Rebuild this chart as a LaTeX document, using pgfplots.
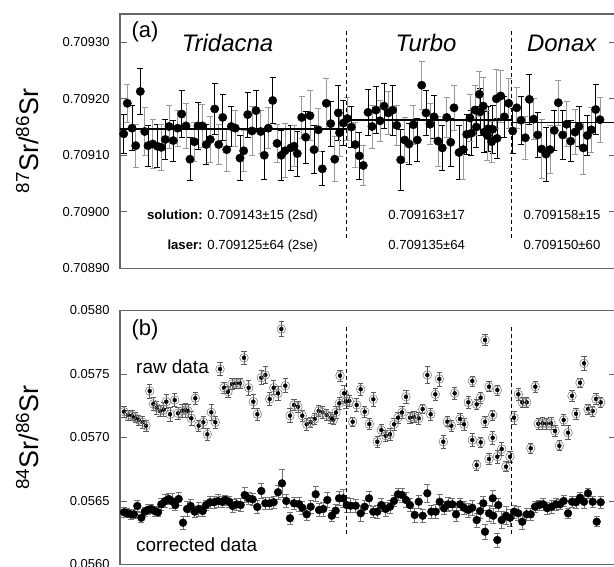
\documentclass[border=0pt]{standalone}
\usepackage{fontspec}
\setmainfont{Liberation Sans}
\usepackage{pgfplots}
\pgfplotsset{compat=1.18}
\usepackage{pgfplotstable}

\pgfplotstableread{
x y e c
123.7 0.709138 0.000034 0
127.3 0.709192 0.000033 1
132.0 0.709148 0.000040 0
135.7 0.709117 0.000038 1
140.3 0.709213 0.000040 0
144.7 0.709142 0.000042 1
148.0 0.709117 0.000036 0
152.7 0.709120 0.000044 1
157.3 0.709116 0.000038 0
161.3 0.709114 0.000040 1
165.3 0.709128 0.000035 0
169.0 0.709151 0.000038 1
173.3 0.709126 0.000036 0
177.7 0.709148 0.000032 1
181.7 0.709173 0.000042 0
186.0 0.709152 0.000040 1
190.0 0.709093 0.000038 0
194.3 0.709124 0.000034 1
198.0 0.709152 0.000042 0
202.3 0.709152 0.000038 1
206.3 0.709119 0.000036 0
210.3 0.709128 0.000040 1
214.7 0.709182 0.000045 0
218.7 0.709119 0.000036 1
222.7 0.709167 0.000040 0
226.7 0.709110 0.000038 1
231.3 0.709151 0.000035 0
235.3 0.709148 0.000032 1
240.0 0.709095 0.000040 0
243.7 0.709108 0.000036 1
247.7 0.709172 0.000040 0
252.0 0.709143 0.000044 1
256.0 0.709179 0.000036 0
260.7 0.709142 0.000038 1
264.3 0.709100 0.000042 0
268.3 0.709148 0.000036 1
272.7 0.709197 0.000040 0
277.0 0.709121 0.000034 1
281.3 0.709100 0.000044 0
285.0 0.709108 0.000048 1
290.7 0.709113 0.000040 0
294.0 0.709116 0.000036 1
297.3 0.709103 0.000040 0
301.7 0.709167 0.000038 1
305.7 0.709132 0.000046 0
310.0 0.709170 0.000044 1
314.0 0.709110 0.000042 0
318.3 0.709145 0.000038 1
322.3 0.709076 0.000030 0
326.3 0.709192 0.000044 1
330.7 0.709156 0.000040 0
334.7 0.709093 0.000040 1
338.3 0.709175 0.000048 0
339.5 0.709140 0.000042 1
343.3 0.709157 0.000040 0
347.3 0.709165 0.000038 1
351.3 0.709150 0.000036 0
355.3 0.709119 0.000040 1
359.3 0.709099 0.000042 0
363.3 0.709082 0.000036 1
368.0 0.709176 0.000040 0
372.0 0.709151 0.000038 1
376.0 0.709180 0.000042 0
380.0 0.709161 0.000036 1
384.0 0.709187 0.000040 0
388.3 0.709175 0.000038 1
392.7 0.709180 0.000044 0
396.7 0.709153 0.000036 1
400.7 0.709092 0.000054 0
404.7 0.709127 0.000040 1
409.0 0.709120 0.000036 0
413.3 0.709154 0.000034 1
417.3 0.709127 0.000038 0
421.7 0.709224 0.000042 1
426.0 0.709175 0.000040 0
430.0 0.709155 0.000036 1
434.0 0.709168 0.000038 0
438.0 0.709125 0.000044 1
442.3 0.709113 0.000040 0
446.7 0.709167 0.000036 1
450.7 0.709123 0.000042 0
454.0 0.709184 0.000040 1
459.0 0.709105 0.000048 0
463.3 0.709110 0.000052 1
466.7 0.709137 0.000036 0
470.0 0.709166 0.000042 1
471.3 0.709139 0.000040 0
475.0 0.709180 0.000044 1
476.3 0.709150 0.000036 0
479.3 0.709208 0.000040 1
480.3 0.709177 0.000042 0
483.3 0.709187 0.000050 1
484.3 0.709141 0.000036 0
487.3 0.709135 0.000044 1
488.3 0.709147 0.000040 0
491.7 0.709124 0.000036 1
492.7 0.709146 0.000042 0
496.3 0.709200 0.000052 1
497.0 0.709130 0.000036 0
500.7 0.709205 0.000046 1
504.3 0.709168 0.000036 0
508.7 0.709192 0.000044 1
512.7 0.709143 0.000040 0
516.7 0.709184 0.000036 1
521.0 0.709162 0.000042 0
525.3 0.709131 0.000038 1
529.3 0.709199 0.000044 0
533.7 0.709164 0.000036 1
537.7 0.709136 0.000040 0
541.7 0.709111 0.000052 1
546.0 0.709102 0.000048 0
550.0 0.709110 0.000042 1
554.3 0.709144 0.000036 0
558.3 0.709193 0.000040 1
562.7 0.709136 0.000044 0
566.7 0.709155 0.000040 1
570.7 0.709125 0.000036 0
575.0 0.709141 0.000040 1
579.0 0.709151 0.000036 0
583.3 0.709113 0.000046 1
587.3 0.709135 0.000036 0
591.3 0.709145 0.000040 1
595.7 0.709181 0.000044 0
600.0 0.709163 0.000040 1
}\topdata

\pgfplotstableread{
x y e
124 0.057203 0.000045
128 0.057177 0.000040
132 0.057172 0.000040
135.3 0.057156 0.000040
138.7 0.057138 0.000040
142.7 0.057120 0.000045
146 0.057093 0.000045
149.7 0.057366 0.000055
153.3 0.057264 0.000050
156.7 0.057235 0.000050
160 0.057209 0.000045
163.7 0.057219 0.000055
166.3 0.057282 0.000055
170 0.057183 0.000055
174.7 0.057295 0.000050
178 0.057191 0.000050
182 0.057209 0.000050
185.3 0.057217 0.000055
188 0.057209 0.000050
191.3 0.057151 0.000055
195.3 0.057309 0.000050
198.7 0.057093 0.000045
203.3 0.057120 0.000050
207.3 0.057025 0.000050
211.3 0.057198 0.000060
215.3 0.057120 0.000050
220 0.057539 0.000050
224 0.057392 0.000045
228 0.057361 0.000045
232 0.057421 0.000045
236 0.057427 0.000040
240 0.057427 0.000040
244 0.057628 0.000050
248.7 0.057392 0.000060
253.3 0.057282 0.000055
257.3 0.057183 0.000045
261.3 0.057471 0.000055
265.3 0.057492 0.000065
269.7 0.057303 0.000050
273.7 0.057392 0.000055
278 0.057348 0.000055
281.3 0.057854 0.000060
285.3 0.057408 0.000055
290 0.057172 0.000055
294 0.057256 0.000045
298 0.057243 0.000045
302.3 0.057172 0.000045
306.7 0.057104 0.000045
310.7 0.057120 0.000040
314.7 0.057146 0.000045
318.7 0.057209 0.000045
322.7 0.057198 0.000045
326.7 0.057177 0.000045
330.7 0.057156 0.000045
333.3 0.057140 0.000040
336 0.057198 0.000045
339.3 0.057269 0.000045
340 0.057487 0.000045
344 0.057348 0.000060
346 0.057282 0.000055
349.3 0.057287 0.000045
352.7 0.057124 0.000035
356.7 0.057256 0.000050
360.7 0.057380 0.000050
364.7 0.057203 0.000045
369.3 0.057106 0.000045
373.3 0.057301 0.000055
377.3 0.056967 0.000045
381.3 0.057059 0.000045
385.7 0.057014 0.000045
390 0.057025 0.000045
394 0.057104 0.000045
398 0.057156 0.000045
402 0.057198 0.000050
406 0.057321 0.000050
410 0.057156 0.000045
414 0.057161 0.000045
418.7 0.057151 0.000045
422.7 0.057224 0.000035
427.3 0.057492 0.000065
430.7 0.057183 0.000045
435.3 0.057340 0.000045
439.3 0.057461 0.000055
443.3 0.056967 0.000050
447.3 0.057124 0.000040
451.3 0.057093 0.000045
454.7 0.057348 0.000045
460 0.057146 0.000045
464 0.057104 0.000045
468.3 0.057277 0.000045
472.3 0.057445 0.000040
472.3 0.056980 0.000050
476.7 0.057261 0.000040
476.7 0.056783 0.000040
480.7 0.057313 0.000045
480.7 0.056962 0.000040
485 0.057768 0.000045
485 0.057124 0.000045
489 0.057400 0.000040
489 0.056831 0.000045
492.7 0.057177 0.000040
492.7 0.056998 0.000050
497.3 0.057374 0.000040
497.3 0.056849 0.000050
501.7 0.056909 0.000050
506 0.056770 0.000040
510 0.056849 0.000045
514 0.057156 0.000050
518.3 0.057340 0.000045
522.3 0.057277 0.000040
526.7 0.057277 0.000040
530.7 0.056915 0.000040
535.3 0.057400 0.000045
538.3 0.057109 0.000045
542.7 0.057112 0.000045
546.7 0.057109 0.000045
551 0.057112 0.000045
555 0.057051 0.000045
559.3 0.056935 0.000040
563.7 0.057138 0.000045
568 0.057038 0.000055
572 0.057329 0.000045
576 0.057187 0.000045
580 0.057431 0.000035
584 0.057584 0.000055
588 0.057224 0.000040
592.7 0.057209 0.000040
596 0.057303 0.000045
600.7 0.057277 0.000040
}\rawdata

\pgfplotstableread{
x y e
124 0.056411 0.000040
127.3 0.056403 0.000035
130.7 0.056395 0.000040
134 0.056395 0.000035
137.3 0.056461 0.000045
141.3 0.056368 0.000040
144.7 0.056416 0.000035
148 0.056431 0.000040
151.3 0.056437 0.000035
154.7 0.056421 0.000040
158 0.056411 0.000035
161.3 0.056474 0.000045
165.3 0.056500 0.000050
168.7 0.056516 0.000045
172 0.056500 0.000060
175.3 0.056468 0.000045
178.7 0.056516 0.000050
183 0.056329 0.000050
187 0.056437 0.000060
190.7 0.056461 0.000050
194.7 0.056416 0.000045
198.7 0.056437 0.000055
202.7 0.056421 0.000045
206 0.056468 0.000040
210 0.056490 0.000050
214 0.056490 0.000045
218 0.056500 0.000050
222 0.056494 0.000045
225.3 0.056508 0.000040
229.3 0.056494 0.000045
232.7 0.056461 0.000050
236.7 0.056474 0.000045
240.7 0.056468 0.000050
244.7 0.056547 0.000060
248.7 0.056521 0.000050
252.7 0.056513 0.000045
257.3 0.056453 0.000050
261.3 0.056579 0.000060
265.3 0.056482 0.000050
269.7 0.056482 0.000045
273.7 0.056490 0.000050
278 0.056569 0.000055
282 0.056639 0.000110
286.3 0.056500 0.000050
290 0.056364 0.000045
294 0.056482 0.000050
299 0.056476 0.000055
302.3 0.056447 0.000050
306.7 0.056395 0.000045
310.7 0.056455 0.000050
315.7 0.056553 0.000060
319 0.056429 0.000050
323.3 0.056437 0.000055
327.3 0.056508 0.000060
331.7 0.056384 0.000045
335.7 0.056424 0.000050
339 0.056521 0.000055
343.3 0.056521 0.000070
346.7 0.056468 0.000060
350.7 0.056463 0.000055
355.7 0.056463 0.000050
360.7 0.056403 0.000065
364.7 0.056455 0.000050
369 0.056521 0.000055
373.3 0.056416 0.000045
377.3 0.056416 0.000050
381.3 0.056468 0.000050
385.7 0.056437 0.000055
390 0.056455 0.000050
394 0.056500 0.000045
398 0.056553 0.000050
402 0.056547 0.000055
406 0.056508 0.000060
410 0.056468 0.000050
414.7 0.056390 0.000055
418.7 0.056494 0.000050
422.7 0.056384 0.000050
427.3 0.056561 0.000070
431.3 0.056416 0.000050
435.7 0.056416 0.000055
439.7 0.056494 0.000060
444 0.056443 0.000050
448 0.056474 0.000055
452.3 0.056474 0.000050
456 0.056395 0.000055
460 0.056474 0.000045
464 0.056447 0.000050
468.3 0.056429 0.000055
472.3 0.056447 0.000060
476.7 0.056350 0.000055
480 0.056421 0.000060
483.3 0.056482 0.000055
485 0.056258 0.000060
489 0.056403 0.000065
492.7 0.056521 0.000060
493.3 0.056384 0.000060
497.3 0.056193 0.000055
498.3 0.056468 0.000050
501.7 0.056350 0.000065
506 0.056384 0.000070
510 0.056368 0.000065
514.3 0.056416 0.000050
518.3 0.056403 0.000055
522.3 0.056337 0.000060
526.7 0.056395 0.000050
530.7 0.056395 0.000045
535 0.056455 0.000045
539.3 0.056468 0.000040
543.3 0.056474 0.000050
547.3 0.056443 0.000045
551.7 0.056455 0.000050
556 0.056474 0.000045
560 0.056474 0.000040
563.7 0.056500 0.000045
568 0.056403 0.000040
572 0.056494 0.000045
576 0.056490 0.000050
580 0.056526 0.000045
584 0.056494 0.000050
588 0.056561 0.000040
592.7 0.056494 0.000045
596.7 0.056337 0.000040
600.7 0.056490 0.000045
}\corrdata

\begin{document}
\begin{tikzpicture}
\useasboundingbox (0,0) rectangle (614bp,-567bp);
\pgfplotsset{
  panel/.style={
    scale only axis, width=496bp, xmin=120, xmax=616, xtick=\empty,
    tick align=inside, major tick length=7bp, ytick pos=both,
    scaled y ticks=false,
    axis line style={draw=black!60, line width=1.3bp},
    ytick style={draw=black!60, line width=0.9bp},
    yticklabel style={font=\fontsize{13}{15}\selectfont, xshift=-7bp},
  },
  ebars/.style={only marks, mark=none, forget plot,
    error bars/y dir=both, error bars/y explicit,
    error bars/error bar style={line width=0.8bp, #1},
    error bars/error mark options={rotate=90, mark size=3bp, line width=0.8bp, #1}},
}
\begin{axis}[panel, at={(120bp,-14bp)}, anchor=north west, height=254.3bp,
  ymin=0.70890, ymax=0.70935,
  ytick={0.7089,0.7090,0.7091,0.7092,0.7093},
  yticklabels={0.70890,0.70900,0.70910,0.70920,0.70930}]
\addplot[ebars={black}, restrict expr to domain={\thisrow{c}}{-0.5:0.5}]
  table[x=x, y=y, y error=e] {\topdata};
\addplot[ebars={black!40}, restrict expr to domain={\thisrow{c}}{0.5:1.5}]
  table[x=x, y=y, y error=e] {\topdata};
\addplot[black, line width=1.8bp] coordinates {(120,0.709147) (346.5,0.709147)};
\addplot[black, line width=1.8bp] coordinates {(346.5,0.709162) (511.5,0.709162)};
\addplot[black, line width=1.8bp] coordinates {(511.5,0.709158) (616,0.709158)};
\addplot[only marks, mark=*, mark size=4.2bp, black] table[x=x, y=y] {\topdata};
\addplot[black, line width=1.1bp, dash pattern=on 4bp off 3bp] coordinates {(346.5,0.708954) (346.5,0.709324)};
\addplot[black, line width=1.1bp, dash pattern=on 4bp off 3bp] coordinates {(511.5,0.708954) (511.5,0.709324)};
\end{axis}

\begin{axis}[panel, at={(120bp,-310.5bp)}, anchor=north west, height=254bp,
  ymin=0.0560, ymax=0.0580,
  ytick={0.056,0.0565,0.057,0.0575,0.058},
  yticklabels={0.0560,0.0565,0.0570,0.0575,0.0580}]
\addplot[only marks, mark=none, forget plot,
    error bars/y dir=both, error bars/y explicit,
    error bars/error bar style={line width=0.7bp, black!65},
    error bars/error mark options={rotate=90, mark size=2.6bp, line width=0.7bp, black!65}]
  table[x=x, y=y, y error=e] {\rawdata};
\addplot[only marks, mark=o, mark size=4.3bp, mark options={black!50, line width=0.6bp}] table[x=x, y=y] {\rawdata};
\addplot[ebars={black!55}] table[x=x, y=y, y error=e] {\corrdata};
\addplot[only marks, mark=*, mark size=3.9bp, black] table[x=x, y=y] {\corrdata};
\addplot[black, line width=1.1bp, dash pattern=on 4bp off 3bp] coordinates {(346.5,0.056238) (346.5,0.057880)};
\addplot[black, line width=1.1bp, dash pattern=on 4bp off 3bp] coordinates {(511.5,0.056238) (511.5,0.057880)};
\end{axis}

% titles and annotations
\node[anchor=base west, inner sep=0pt, font=\fontsize{22}{24}\selectfont] at (131.5bp,-37.5bp) {(a)};
\node[anchor=base, inner sep=0pt, font=\fontsize{24}{26}\selectfont\itshape] at (227.5bp,-51.5bp) {Tridacna};
\node[anchor=base, inner sep=0pt, font=\fontsize{24}{26}\selectfont\itshape] at (426bp,-51.5bp) {Turbo};
\node[anchor=base, inner sep=0pt, font=\fontsize{24}{26}\selectfont\itshape] at (561.7bp,-51.5bp) {Donax};
\node[anchor=base east, inner sep=0pt, font=\fontsize{13.2}{15}\selectfont] at (318bp,-219.5bp) {\textbf{solution:} 0.709143±15 (2sd)};
\node[anchor=base east, inner sep=0pt, font=\fontsize{13.2}{15}\selectfont] at (318bp,-249.5bp) {\textbf{laser:} 0.709125±64 (2se)};
\node[anchor=base, inner sep=0pt, font=\fontsize{13.2}{15}\selectfont] at (426.7bp,-219.5bp) {0.709163±17};
\node[anchor=base, inner sep=0pt, font=\fontsize{13.2}{15}\selectfont] at (426.7bp,-249.5bp) {0.709135±64};
\node[anchor=base, inner sep=0pt, font=\fontsize{13.2}{15}\selectfont] at (562bp,-219.5bp) {0.709158±15};
\node[anchor=base, inner sep=0pt, font=\fontsize{13.2}{15}\selectfont] at (562bp,-249.5bp) {0.709150±60};
\node[anchor=base west, inner sep=0pt, font=\fontsize{22}{24}\selectfont] at (131.5bp,-335.5bp) {(b)};
\node[anchor=base west, inner sep=0pt, font=\fontsize{19}{21}\selectfont] at (136bp,-373bp) {raw data};
\node[anchor=base west, inner sep=0pt, font=\fontsize{19}{21}\selectfont] at (136bp,-551.7bp) {corrected data};
\node[rotate=90, anchor=base, inner sep=0pt, font=\fontsize{27}{30}\selectfont] at (38bp,-141bp) {\textsuperscript{87}Sr/\textsuperscript{86}Sr};
\node[rotate=90, anchor=base, inner sep=0pt, font=\fontsize{27}{30}\selectfont] at (38bp,-437.5bp) {\textsuperscript{84}Sr/\textsuperscript{86}Sr};
\end{tikzpicture}
\end{document}
